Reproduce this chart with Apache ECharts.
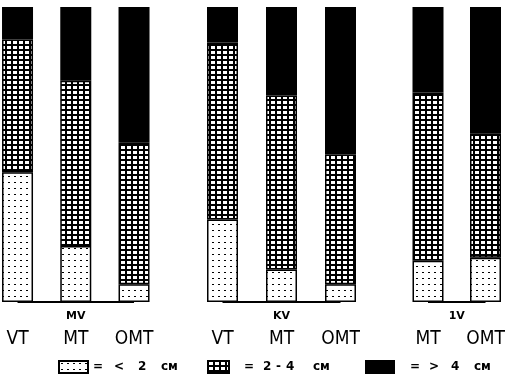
<!DOCTYPE html>
<html>
<head>
<meta charset="utf-8">
<script src="https://cdn.jsdelivr.net/npm/echarts@6/dist/echarts.min.js"></script>
<style>
html,body{margin:0;padding:0;background:#fff;}
#chart{width:513px;height:390px;}
</style>
</head>
<body>
<div id="chart"></div>
<script>
// ---- data ----
const groupNames = ['MV', 'KV', '1V'];
const mvCats = ['VT', 'MT', 'OMT'];
const kvCats = ['VT', 'MT', 'OMT'];
const ivCats = ['MT', 'OMT'];
// share (%) of each size class
const mvSmall = [44, 19, 6];
const mvMid   = [45, 56, 48];
const mvLarge = [11, 25, 46];
const kvSmall = [28, 11, 6];
const kvMid   = [60, 59, 44];
const kvLarge = [12, 30, 50];
const ivSmall = [14, 15];
const ivMid   = [57, 42];
const ivLarge = [29, 43];
// legend texts split into tokens: "= < 2 см", "= 2-4 см", "= > 4 см"
const legendTokens = [
  ['=', '<', '2', 'см'],
  ['=', '2', '-', '4', 'см'],
  ['=', '>', '4', 'см']
];

// ---- patterns ----
function makeCanvas(w, h, draw) {
  const c = document.createElement('canvas');
  c.width = w; c.height = h;
  draw(c.getContext('2d'));
  return c;
}
const dotted = makeCanvas(6, 6, ctx => {
  ctx.fillStyle = '#fff'; ctx.fillRect(0, 0, 6, 6);
  ctx.fillStyle = '#000'; ctx.fillRect(2, 2, 2, 1);
});
const hatched = makeCanvas(6, 5, ctx => {
  ctx.fillStyle = '#000'; ctx.fillRect(0, 0, 6, 5);
  ctx.fillStyle = '#fff'; ctx.fillRect(1, 1, 4, 3);
});
const fillSmall = { image: dotted, repeat: 'repeat' };
const fillMid = { image: hatched, repeat: 'repeat' };
const fillLarge = '#000';

const groups = [
  { name: groupNames[0], cats: mvCats, s: mvSmall, m: mvMid, l: mvLarge, left: -11.6, width: 174.75 },
  { name: groupNames[1], cats: kvCats, s: kvSmall, m: kvMid, l: kvLarge, left: 193, width: 177 },
  { name: groupNames[2], cats: ivCats, s: ivSmall, m: ivMid, l: ivLarge, left: 399.25, width: 115 }
];

const grid = [], xAxis = [], yAxis = [], series = [];
groups.forEach((g, i) => {
  grid.push({ left: g.left, width: g.width, top: 7, height: 295, containLabel: false, outerBoundsMode: 'none' });
  const n = g.cats.length;
  xAxis.push({
    type: 'category', gridIndex: i, data: g.cats, boundaryGap: true,
    axisTick: { show: false },
    axisLine: { show: false },
    axisLabel: {
      interval: 0, margin: 28, color: '#000', fontSize: 19,
      fontFamily: '"Liberation Sans Narrow", "DejaVu Sans Condensed", sans-serif'
    },
    name: g.name, nameLocation: 'middle', nameGap: 9, nameMoveOverlap: false,
    nameTextStyle: { color: '#000', fontSize: 11, fontWeight: 'bold', fontFamily: 'DejaVu Sans', verticalAlign: 'top' }
  });
  yAxis.push({ type: 'value', gridIndex: i, min: 0, max: 100, show: false });
  const mk = (name, vals, color) => ({
    type: 'bar', name, xAxisIndex: i, yAxisIndex: i, stack: 'g' + i,
    barWidth: 31,
    data: vals,
    itemStyle: { color, borderColor: '#000', borderWidth: 1.5 },
    emphasis: { disabled: true },
    animation: false
  });
  const sm = mk('small', g.s, fillSmall);
  sm.markLine = {
    silent: true, symbol: 'none', animation: false,
    label: { show: false },
    lineStyle: { color: '#000', width: 2, type: 'solid' },
    data: [[{ coord: [g.cats[0], 0] }, { coord: [g.cats[n - 1], 0] }]]
  };
  series.push(sm);
  series.push(mk('mid', g.m, fillMid));
  series.push(mk('large', g.l, fillLarge));
});

const legTxt = { color: '#000', fontSize: 12, fontWeight: 'bold', fontFamily: 'DejaVu Sans' };
function richFor(widths) {
  const r = {};
  widths.forEach((w, k) => { r['c' + k] = Object.assign({ width: w, align: 'left' }, legTxt); });
  return r;
}
function fmt(tokens) {
  return () => tokens.map((t, k) => '{c' + k + '|' + t + '}').join('');
}
const legend = [
  { data: ['small'], left: 58, top: 360, itemWidth: 29, itemHeight: 12, padding: 0, icon: 'rect',
    selectedMode: false, formatter: fmt(legendTokens[0]),
    textStyle: Object.assign({ padding: [0, 0, 0, 0], rich: richFor([21, 24, 23, 20]) }, legTxt) },
  { data: ['mid'], left: 207, top: 360, itemWidth: 21, itemHeight: 12, padding: 0, icon: 'rect',
    selectedMode: false, formatter: fmt(legendTokens[1]),
    textStyle: Object.assign({ padding: [0, 0, 0, 10], rich: richFor([19, 13, 10, 27, 20]) }, legTxt) },
  { data: ['large'], left: 365, top: 360, itemWidth: 28, itemHeight: 12, padding: 0, icon: 'rect',
    selectedMode: false, formatter: fmt(legendTokens[2]),
    textStyle: Object.assign({ padding: [0, 0, 0, 11], rich: richFor([19, 22, 23, 20]) }, legTxt) }
];

const chart = echarts.init(document.getElementById('chart'), null, { renderer: 'canvas' });
chart.setOption({
  backgroundColor: '#fff',
  animation: false,
  grid, xAxis, yAxis, series, legend
});
</script>
</body>
</html>
